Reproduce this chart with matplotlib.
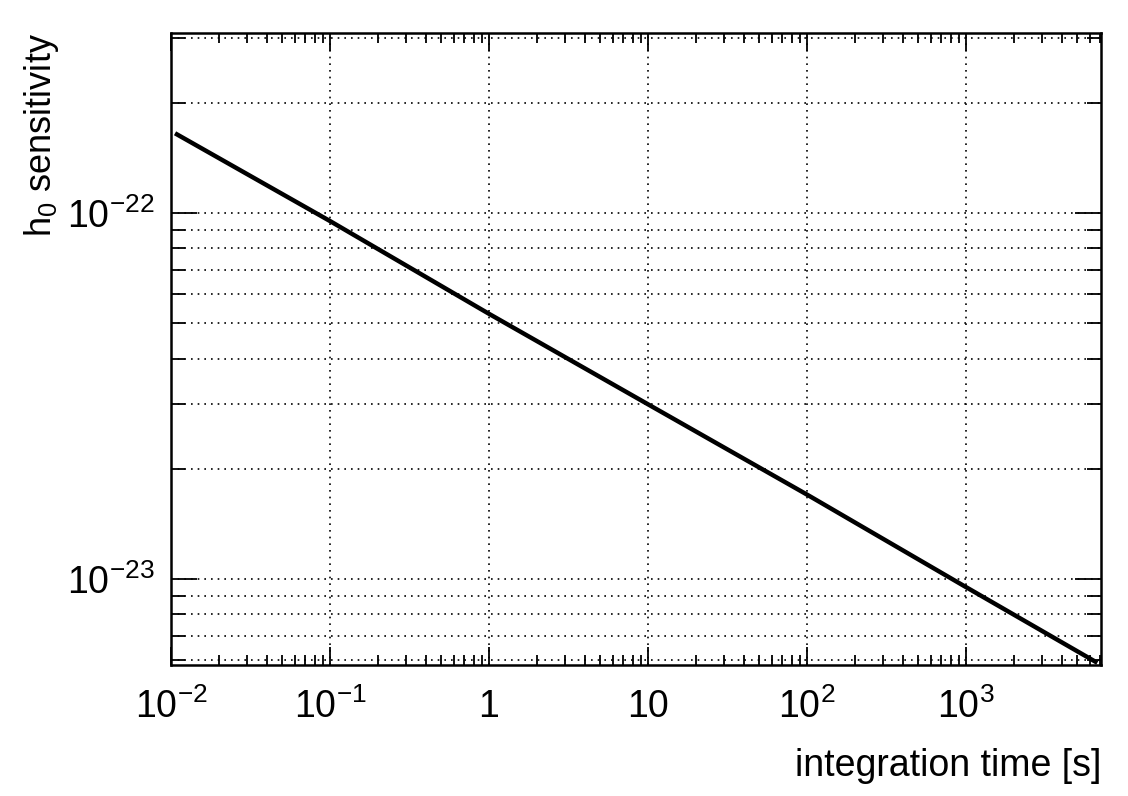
import numpy as np
import matplotlib
matplotlib.use("Agg")
import matplotlib.pyplot as plt
from matplotlib.ticker import FixedLocator, LogLocator, FuncFormatter, NullFormatter

plt.rcParams["font.family"] = ["Liberation Sans", "DejaVu Sans"]
plt.rcParams["mathtext.fontset"] = "custom"
plt.rcParams["mathtext.rm"] = "Liberation Sans"
plt.rcParams["mathtext.it"] = "Liberation Sans:italic"

# integration time [s] and h0 sensitivity
t_vals = [0.0106, 0.1, 1, 10, 100, 1000, 6700]
h0_vals = [1.65e-22, 9.5e-23, 5.3e-23, 3.0e-23, 1.70e-23, 9.5e-24, 5.9e-24]

x_major = [1e-2, 1e-1, 1, 10, 100, 1000]
y_major = [1e-23, 1e-22]

x_range = (1e-2, 7060)
y_range = (5.82e-24, 3.1e-22)

fig = plt.figure(figsize=(11.28, 7.96), dpi=100)
ax = fig.add_axes([0.1516, 0.1646, 0.976 - 0.1516, 0.9585 - 0.1646])

ax.plot(t_vals, h0_vals, color="black", lw=3.2, solid_capstyle="butt")

ax.set_xscale("log")
ax.set_yscale("log")
ax.set_xlim(*x_range)
ax.set_ylim(*y_range)


def xfmt(v, pos):
    e = int(round(np.log10(v)))
    if e == 0:
        return "1"
    if e == 1:
        return "10"
    return r"$10^{%d}$" % e


def yfmt(v, pos):
    e = int(round(np.log10(v)))
    return r"$10^{%d}$" % e


ax.xaxis.set_major_locator(FixedLocator(x_major))
ax.xaxis.set_minor_locator(LogLocator(base=10, subs=np.arange(2, 10), numticks=20))
ax.yaxis.set_major_locator(FixedLocator(y_major))
ax.yaxis.set_minor_locator(LogLocator(base=10, subs=np.arange(2, 10), numticks=20))
ax.xaxis.set_major_formatter(FuncFormatter(xfmt))
ax.yaxis.set_major_formatter(FuncFormatter(yfmt))
ax.xaxis.set_minor_formatter(NullFormatter())
ax.yaxis.set_minor_formatter(NullFormatter())

ax.tick_params(axis="both", which="both", direction="in", top=True, right=True,
               labelsize=27, width=1.3, color="black")
ax.tick_params(axis="x", which="major", length=13, pad=17)
ax.tick_params(axis="x", which="minor", length=7)
ax.tick_params(axis="y", which="major", length=19, pad=12)
ax.tick_params(axis="y", which="minor", length=10)

for s in ax.spines.values():
    s.set_linewidth(1.8)

ax.grid(True, which="major", axis="both", ls=(0, (1, 3)), color="black", lw=1.2)
ax.grid(True, which="minor", axis="y", ls=(0, (1, 3)), color="black", lw=1.2)

ax.set_xlabel("integration time [s]", fontsize=27, loc="right", labelpad=16)
ax.set_ylabel(r"h$_{0}$ sensitivity", fontsize=26, loc="top", labelpad=4)

fig.savefig("out.png", dpi=100)
